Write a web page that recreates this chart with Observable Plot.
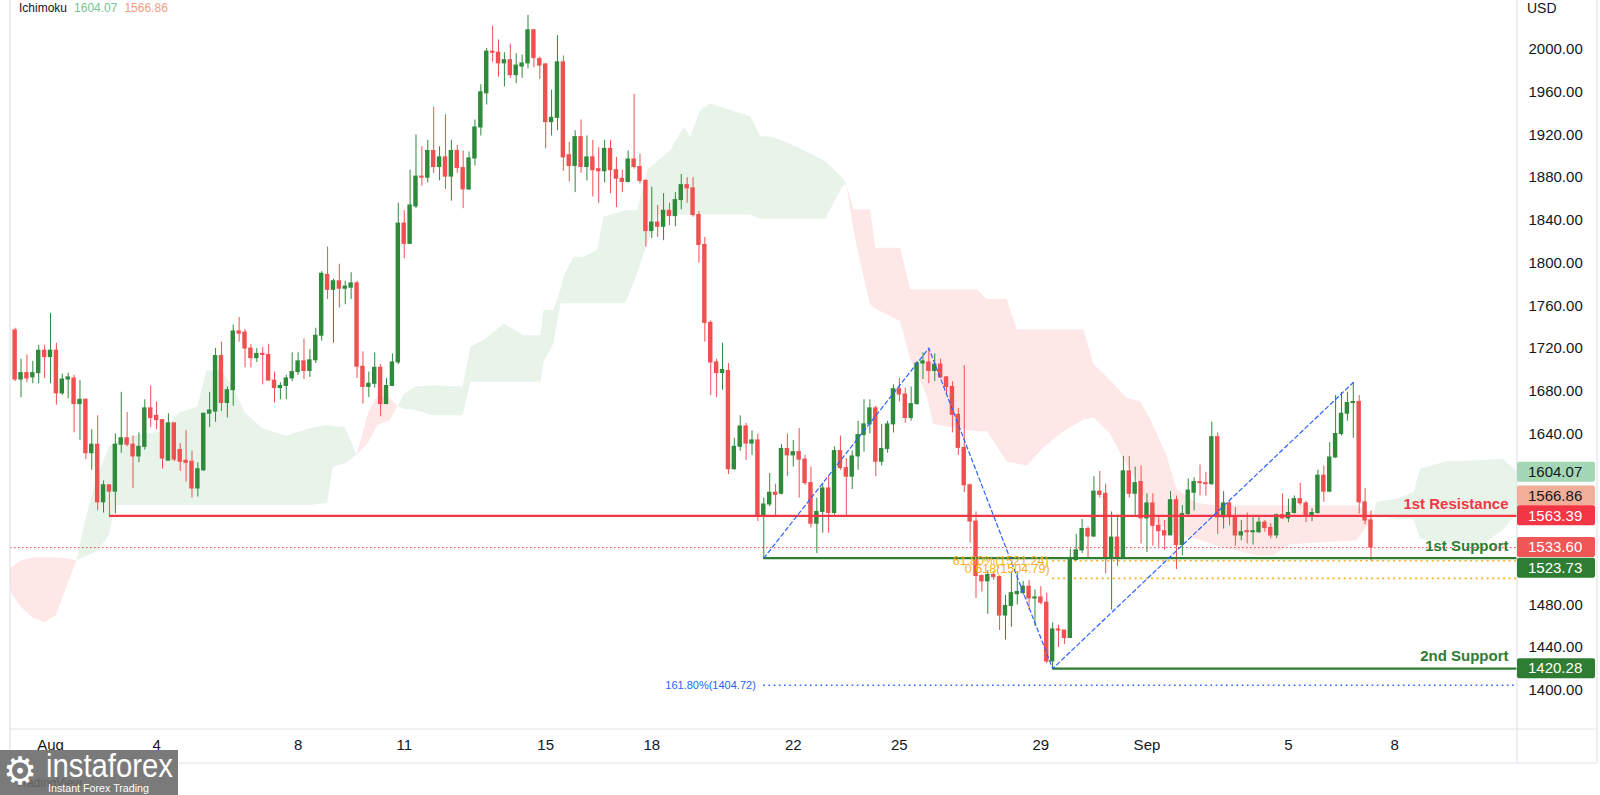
<!DOCTYPE html>
<html><head><meta charset="utf-8">
<script src="https://cdn.jsdelivr.net/npm/d3@7"></script>
<script src="https://cdn.jsdelivr.net/npm/@observablehq/plot@0.6"></script>
<style>
html,body{margin:0;padding:0;background:#fff;}
#wrap{position:relative;width:1600px;height:795px;overflow:hidden;}
#legend{position:absolute;left:19px;top:0px;font:12px "Liberation Sans",Arial,sans-serif;line-height:17px;color:#131722;white-space:nowrap;}
#legend span{margin-right:7px;}
</style></head><body><div id="wrap"><div id="legend"></div></div>
<script>
// ---------- DATA ----------
const candleStart = "2022-07-31T00:00:00Z";
const candleHours = 4;
const opens = [1737,1691,1697,1693,1697,1718,1712,1718,1678,1691,1692,1668,1672,1622,1630,1576,1592,1586,1630,1636,
1630,1619,1628,1664,1657,1653,1615,1650,1625,1615,1614,1589,1606,1659,1661,1713,1669,1681,1736,1735,
1720,1711,1715,1714,1690,1683,1685,1692,1698,1708,1699,1709,1732,1789,1775,1783,1776,1777,1781,1703,
1684,1687,1702,1668,1685,1707,1837,1818,1853,1881,1880,1905,1890,1899,1881,1905,1889,1869,1898,1927,
1959,1998,1997,1987,1990,1976,1984,1987,2018,1991,1986,1932,1936,1988,1901,1891,1918,1890,1899,1888,
1886,1907,1887,1879,1876,1897,1890,1877,1830,1838,1834,1849,1844,1859,1873,1870,1845,1817,1744,1707,
1697,1699,1607,1628,1647,1631,1634,1563,1574,1585,1584,1626,1620,1623,1616,1594,1556,1567,1589,1566,
1624,1608,1600,1619,1639,1649,1664,1614,1626,1649,1682,1677,1655,1668,1706,1707,1699,1705,1693,1684,
1658,1627,1592,1558,1507,1502,1508,1506,1470,1479,1490,1491,1497,1486,1487,1482,1427,1457,1456,1449,
1522,1531,1551,1544,1586,1584,1524,1543,1524,1605,1584,1595,1561,1575,1554,1549,1545,1578,1536,1565,
1585,1595,1594,1593,1637,1562,1575,1563,1545,1549,1548,1548,1557,1552,1545,1564,1561,1566,1579,1575,
1563,1566,1601,1586,1618,1640,1659,1669,1670,1576,1559];
const highs = [1739,1710,1714,1708,1723,1723,1753,1725,1696,1697,1695,1690,1673,1644,1657,1596,1592,1640,1679,1660,
1638,1641,1672,1685,1670,1653,1659,1650,1631,1643,1624,1613,1659,1679,1720,1726,1684,1742,1749,1738,
1724,1720,1721,1724,1698,1688,1695,1716,1716,1729,1719,1739,1792,1815,1785,1799,1783,1791,1783,1717,
1698,1716,1705,1692,1715,1856,1849,1887,1920,1909,1915,1946,1909,1939,1915,1910,1905,1904,1934,1967,
2001,2022,2009,1997,2005,1996,1995,2032,2019,1993,1987,1962,2013,1994,1913,1924,1934,1919,1915,1908,
1915,1915,1899,1887,1905,1958,1902,1878,1871,1854,1865,1856,1866,1883,1880,1880,1848,1824,1746,1710,
1725,1706,1636,1657,1650,1643,1640,1580,1603,1593,1630,1640,1634,1645,1620,1609,1580,1594,1600,1628,
1638,1617,1624,1652,1672,1672,1666,1649,1652,1686,1692,1683,1684,1708,1716,1720.3,1715,1710,1694,1689,
1664,1704,1593,1567,1508,1512,1511,1507,1489,1511,1511,1502,1503,1494,1497,1491,1463,1461,1456,1532,
1546,1560,1553,1600,1605,1593,1567,1564,1619,1619,1609,1610,1584,1584,1563,1559,1586,1582,1573,1598,
1599,1611,1604,1651,1641,1586,1577,1571,1559,1566,1562,1563,1559,1556,1565,1584,1579,1582,1594,1577,
1570,1606,1610,1632,1676,1679,1679,1688.2,1676,1589,1568];
const lows = [1689,1674,1688,1687,1687,1692,1687,1667,1676,1673,1641,1634,1616,1606,1568,1566,1563.39,1565,1622,1628,
1589,1613,1625,1646,1644,1607,1615,1614,1605,1595,1580,1581,1605,1646,1651,1661,1655,1666,1726,1702,
1702,1707,1686,1690,1669,1672,1672,1689,1695,1691,1693,1706,1727,1766,1725,1758,1761,1766,1692,1668,
1674,1683,1656,1668,1685,1705,1804,1818,1851,1872,1875,1884,1877,1869,1858,1884,1851,1868,1891,1919,
1948,1988,1974,1965,1973,1968,1973,1982,1983,1972,1907,1919,1924,1886,1876,1866,1884,1877,1862,1856,
1875,1865,1852,1866,1875,1888,1874,1815,1823,1824,1821,1835,1834,1850,1856,1843,1800,1726,1676,1674,
1681,1602,1606,1624,1615,1620,1558,1523.73,1572,1563,1583,1600,1609,1580,1592,1552,1528,1547,1547,1564,
1606,1563,1588,1606,1623,1640,1600,1610,1622,1641,1670,1650,1652,1667,1691,1687,1689,1692,1676,1641,
1620,1585,1538,1486,1492,1471,1503,1456,1447,1459,1480,1489,1475,1460,1480,1425,1420.28,1440,1443,1449,
1521,1528,1524,1543,1580,1509,1475,1516,1524,1580,1562,1537,1529,1535,1534,1531,1545,1513,1526,1563,
1568,1582,1582,1592,1546,1551,1554,1535,1540,1537,1536,1547,1548,1542,1542,1560,1557,1565,1573,1557,
1558,1565,1576,1585,1617,1638,1652,1636,1565,1555,1521];
const closes = [1691,1697,1692,1697,1718,1712,1718,1678,1691,1693,1668,1672,1622,1630,1576,1592,1586,1630,1636,1630,
1619,1628,1664,1655,1653,1617,1650,1616,1614,1613,1589,1607,1659,1662,1713,1669,1681,1736,1734,1720,
1711,1715,1714,1690,1683,1685,1692,1698,1708,1699,1709,1732,1790,1775,1783,1776,1778,1781,1703,1684,
1687,1702,1668,1685,1707,1837,1818,1854,1881,1880,1905,1890,1899,1881,1905,1889,1869,1898,1927,1960,
1998,1997,1987,1990,1976,1985,1987,2018,1992,1985,1932,1936,1988,1899,1891,1918,1890,1899,1887,1886,
1907,1887,1879,1876,1897,1890,1877,1830,1838,1834,1849,1844,1859,1873,1870,1845,1817,1744,1707,1697,
1700,1607,1628,1647,1631,1634,1563,1574,1585,1583,1626,1620,1623,1616,1594,1556,1567,1589,1566,1624,
1608,1600,1619,1639,1649,1664,1614,1626,1649,1682,1677,1655,1668,1706,1708,1699,1705,1693,1684,1658,
1627,1592,1558,1507,1502,1508,1506,1470,1479,1491,1492,1497,1486,1487,1482,1427,1457,1456,1449,1524,
1531,1551,1544,1586,1583,1524,1543,1524,1605,1584,1594,1561,1575,1554,1549,1545,1578,1536,1565,1587,
1595,1594,1593,1637,1562,1575,1562,1545,1548,1548,1549,1557,1552,1545,1564,1561,1566,1579,1575,1564,
1566,1601,1586,1618,1640,1659,1669,1670,1576,1559,1533.6];

// Ichimoku cloud: bar index, upper and lower edge; parts alternate bearish / bullish
const cloudBar = [-1,1,3,5,7,9,10.5,
 10.5,12,14,16,17,20,25,28,31,32.5,35,37,39,42,46,50,53,54,56,58,
 58,60,61.5,63.5,65,
 65,66,68,71,76,77.3,79.5,83,86.3,89.2,89.7,91.4,92.6,93.1,94.8,96.5,98.8,99.9,103.6,105.6,107.3,109,111.2,113.5,114.6,116.3,118,121.4,124.8,126.5,128.2,130,134,137.5,139.4,140.6,141.1,
 141.1,142.3,143.4,145.1,146,150.2,151.9,154.7,155.8,163.2,164.9,168.3,170,171.7,174.5,177.9,181.3,183,185.8,188.6,190.9,192.6,195.4,197.1,200.5,203.9,210.7,213.5,216.3,220.9,227.6,229.9,230.5,
 230.5,231,234.4,237.3,238.4,242.9,248.6,252.5,255];
const cloudUpper = [1513,1521,1524,1524,1524,1523,1521,
 1521,1560,1600,1628,1631,1638,1642,1660,1665,1699,1699,1684,1660,1645,1638,1645,1648,1647,1646,1620,
 1620,1660,1675,1674,1666,
 1666,1677,1684,1685,1684,1721,1727.5,1743,1732,1732,1755.6,1755.6,1775,1787,1805.5,1805.5,1812,1843,1849,1849,1887,1895,1905,1927,1918,1943,1949,1943,1937,1918,1918,1915,1905,1895,1885,1878,1873,
 1873,1850,1850,1850,1814,1814,1775,1775,1775,1775,1766,1766,1737.5,1737.5,1737.5,1737.5,1737.5,1705,1690,1673.5,1670,1654,1619.5,1588,1575,1572.7,1572.7,1572.7,1572.7,1572.7,1572.7,1566,1562,
 1562,1576,1579,1585,1607,1614,1615,1616,1604.07];
const cloudLower = [1494,1478,1468,1463,1470,1500,1521,
 1521,1525,1530,1545,1573,1573,1573,1573,1573,1573,1573,1573,1573,1573,1573,1573,1575,1609,1612,1620,
 1620,1632,1648,1652,1666,
 1666,1663,1662,1657,1657,1688.5,1688.5,1688.5,1688.5,1688.5,1707,1724,1762,1762,1762,1762,1762,1762,1762,1790,1818,1845,1845,1845,1845,1845,1845,1845,1845,1841,1841,1841,1841,1841,1861,1873,1873,
 1873,1830,1801.5,1761,1757,1745,1710,1676,1649,1642,1642,1614,1612,1610,1627,1642,1653,1655,1640,1611,1592,1560,1550,1545,1541.5,1535,1526,1526,1536,1538,1540,1557,1562,
 1562,1563,1560,1560,1541.5,1537,1535,1550,1566.86];
const cloudPartSizes = [7, 20, 5, 37, 33, 9];
const cloudPartKinds = ["bear", "bull", "bear", "bull", "bear", "bull"];

// Levels
const levelNames = ["1st Resistance", "1st Support", "2nd Support"];
const levelValues = [1563.39, 1523.73, 1420.28];
const levelStartBar = [16, 127, 176];
const lastPrice = 1533.60;

// Fibonacci
const fibLabels = ["61.80%(1521.24)", "0.618(1504.79)"];
const fibValues = [1521.24, 1504.79];
const fibStartBar = 176;
const extLabel = "161.80%(1404.72)";
const extValue = 1404.72;
const extStartBar = 127;
const trendBars = [127, 155, 176, 227];
const trendValues = [1523.73, 1720.3, 1420.28, 1688.2];

// Axis
const yTickValues = [1400,1440,1480,1640,1680,1720,1760,1800,1840,1880,1920,1960,2000];
const xTickDates = ["2022-08-01","2022-08-04","2022-08-08","2022-08-11","2022-08-15","2022-08-18","2022-08-22","2022-08-25","2022-08-29","2022-09-01","2022-09-05","2022-09-08"];
const xTickLabels = ["Aug","4","8","11","15","18","22","25","29","Sep","5","8"];

// Price tags on the axis
const tagValues = [1604.07, 1566.86, 1563.39, 1533.60, 1523.73, 1420.28];
const legendValues = [1604.07, 1566.86];

// ---------- STYLE ----------
const GREEN = "#2f8a3b", RED = "#ef5050", LINE_RED = "#f23645", LINE_GREEN = "#2e7d32";
const BLUE = "#2962ff", ORANGE = "#f6b021";
const cloudFill = {bull: "#e8f4ea", bear: "#fde8e7"};
const tagFill = ["#a5d6b6", "#f2ae98", "#f23645", "#ef5757", "#2e7d32", "#2e7d32"];
const tagInk  = ["#131722", "#131722", "#ffffff", "#ffffff", "#ffffff", "#ffffff"];
const tagShift = [0, -16, 0, 0, 10, 0];
const fibDy = [0, -9];

// ---------- BUILD ----------
const H = 3600e3;
const t0 = new Date(candleStart).getTime();
const barTime = i => new Date(t0 + i * candleHours * H);
const candles = opens.map((o, i) => ({t: barTime(i), o, h: highs[i], l: lows[i], c: closes[i], col: closes[i] >= o ? GREEN : RED}));
const cloudPartOf = [];
cloudPartSizes.forEach((n, p) => { for (let k = 0; k < n; k++) cloudPartOf.push(p); });
const cloud = cloudBar.map((b, i) => ({t: barTime(b), hi: cloudUpper[i], lo: cloudLower[i], part: cloudPartOf[i], fill: cloudFill[cloudPartKinds[cloudPartOf[i]]]}));
const aug1 = Date.UTC(2022, 7, 1);
const xDomain = [new Date(aug1 - 1.1309 * 864e5), new Date(aug1 + 41.476 * 864e5)];
const xEnd = xDomain[1];
const levels = levelNames.map((n, i) => ({n, v: levelValues[i], t: barTime(levelStartBar[i]), col: i === 0 ? LINE_RED : LINE_GREEN}));
const fibs = fibLabels.map((n, i) => ({n, v: fibValues[i], t: barTime(fibStartBar), dy: fibDy[i]}));
const trend = trendBars.map((b, i) => ({t: barTime(b), v: trendValues[i]}));
const tickLabel = new Map(xTickDates.map((d, i) => [new Date(d + "T00:00:00Z").getTime(), xTickLabels[i]]));

const chart = Plot.plot({
  width: 1600, height: 795,
  marginLeft: 10, marginRight: 83, marginTop: 0, marginBottom: 66,
  x: {type: "utc", domain: xDomain},
  y: {domain: [1363.3, 2045.9]},
  color: {type: "identity"},
  style: {fontFamily: "'Liberation Sans', Arial, sans-serif", fontSize: "15px", color: "#131722", background: "#fff", overflow: "visible"},
  marks: [
    Plot.areaY(cloud, {x: "t", y1: "lo", y2: "hi", z: "part", fill: "fill", curve: "linear", clip: true}),
    Plot.ruleY([lastPrice], {stroke: LINE_RED, strokeWidth: 1, strokeDasharray: "1.5,2.5"}),
    Plot.ruleY(fibs, {y: "v", x1: "t", x2: () => xEnd, stroke: ORANGE, strokeWidth: 1.6, strokeDasharray: "2,3.5"}),
    Plot.ruleY([extValue], {x1: () => barTime(extStartBar), x2: () => xEnd, stroke: BLUE, strokeWidth: 1.5, strokeDasharray: "1.6,3.6"}),
    Plot.ruleX(candles, {x: "t", y1: "l", y2: "h", stroke: "col", strokeWidth: 1}),
    Plot.rect(candles, {x1: d => new Date(d.t.getTime() - 1.5 * H), x2: d => new Date(d.t.getTime() + 1.5 * H),
      y1: d => Math.min(d.o, d.c), y2: d => Math.max(d.o, d.c), fill: "col", insetTop: -0.5, insetBottom: -0.5}),
    Plot.ruleY(levels, {y: "v", x1: "t", x2: () => xEnd, stroke: "col", strokeWidth: 2.2}),
    Plot.line(trend, {x: "t", y: "v", stroke: BLUE, strokeWidth: 1.2, strokeDasharray: "4,3", clip: true}),
    Plot.text(levels, {x: () => xEnd, y: "v", text: "n", fill: "col", textAnchor: "end", dx: -9, dy: -12, fontSize: 15, fontWeight: "bold"}),
    Plot.text(fibs.slice(0, 1), {x: "t", y: "v", text: "n", fill: ORANGE, textAnchor: "end", dx: -4, fontSize: 12.5}),
    Plot.text(fibs.slice(1), {x: "t", y: "v", text: "n", fill: ORANGE, textAnchor: "end", dx: -3, dy: -9, fontSize: 12.5}),
    Plot.text([extLabel], {x: () => barTime(extStartBar), y: () => extValue, text: d => d, fill: BLUE, textAnchor: "end", dx: -8, fontSize: 11}),
    Plot.axisY({anchor: "right", ticks: yTickValues, tickFormat: d => d.toFixed(2), tickSize: 0, tickPadding: 11, label: null, fontSize: 15}),
    Plot.axisX({ticks: xTickDates.map(d => new Date(d + "T00:00:00Z")), tickFormat: d => tickLabel.get(d.getTime()), tickSize: 0, tickPadding: 10, label: null, fontSize: 15,
      fontWeight: d => /[A-Za-z]/.test(tickLabel.get(d.getTime())) ? "bold" : "normal"})
  ]
});

const svg = d3.select(chart);
const yS = chart.scale("y");
const g = svg.append("g").attr("text-anchor", "start");
const chrome = "#e0e3eb";
[[10,0,10,763],[1517,0,1517,763],[1597,0,1597,763],[10,729,1597,729],[10,763,1597,763]].forEach(([x1,y1,x2,y2]) =>
  g.append("line").attr("x1",x1).attr("y1",y1).attr("x2",x2).attr("y2",y2).attr("stroke",chrome).attr("stroke-width",1.2));
g.append("text").attr("x",1527).attr("y",8).attr("dy","0.35em").attr("font-size",14).attr("fill","#131722").text("USD");
tagValues.forEach((v, k) => {
  const cy = yS.apply(v) + tagShift[k];
  g.append("rect").attr("x",1517).attr("y",cy-10).attr("width",78).attr("height",20).attr("rx",2).attr("fill",tagFill[k]);
  g.append("text").attr("x",1528).attr("y",cy).attr("dy","0.35em").attr("font-size",15).attr("fill",tagInk[k]).text(v.toFixed(2));
});
// logo
const logo = svg.append("g").attr("text-anchor", "start");
logo.append("rect").attr("x",0).attr("y",750).attr("width",178).attr("height",45).attr("fill","#7a7a7a");
logo.append("text").attr("x",16).attr("y",787).attr("font-size",12).attr("fill","#626262").text("TradingView");
logo.append("text").attr("x",3).attr("y",784).attr("font-size",38).attr("fill","#ffffff").attr("font-family","DejaVu Sans").text("⚙");
logo.append("text").attr("x",46).attr("y",777).attr("font-size",33).attr("fill","#ffffff").attr("textLength",127).attr("lengthAdjust","spacingAndGlyphs").text("instaforex");
logo.append("text").attr("x",48).attr("y",792).attr("font-size",11).attr("fill","#ffffff").attr("textLength",101).attr("lengthAdjust","spacingAndGlyphs").text("Instant Forex Trading");

const wrap = document.getElementById("wrap");
wrap.insertBefore(chart, wrap.firstChild);
chart.style.position = "absolute"; chart.style.left = "0"; chart.style.top = "0";
const leg = document.getElementById("legend");
leg.innerHTML = `<span>Ichimoku</span><span style="color:#76c394">${legendValues[0].toFixed(2)}</span><span style="color:#f59a7d">${legendValues[1].toFixed(2)}</span>`;
</script>
</body></html>
